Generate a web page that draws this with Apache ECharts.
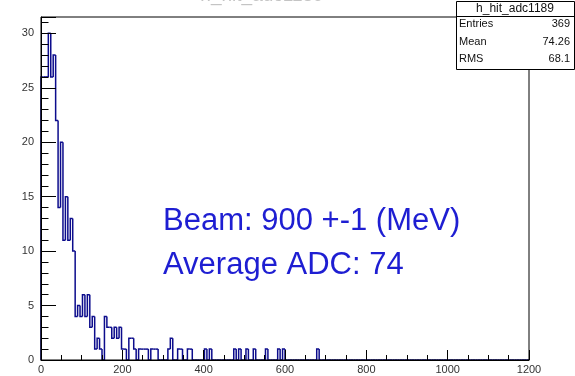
<!DOCTYPE html>
<html>
<head>
<meta charset="utf-8">
<script src="https://cdn.jsdelivr.net/npm/echarts@6/dist/echarts.min.js"></script>
<style>
  html, body { margin: 0; padding: 0; background: #ffffff; }
  #chart { width: 575px; height: 376px; }
</style>
</head>
<body>
<div id="chart"></div>
<script>
// Histogram h_hit_adc1189: 6 ADC counts per bin, bins beyond the list are empty
const binWidth = 6;
const xRange = [0, 1200];
const counts = [
  26, 26, 26, 30, 26, 28, 22, 14, 20, 11, 15, 11, 13, 10, 4, 5, 4, 6, 4, 6,
  3, 4, 1, 2, 1, 0, 4, 3, 3, 2, 3, 2, 3, 1, 1, 0, 2, 2, 1, 0,
  1, 1, 1, 1, 0, 1, 1, 1, 0, 0, 0, 0, 1, 2, 0, 0, 1, 1, 0, 0,
  1, 1, 0, 0, 0, 0, 0, 1, 0, 1, 0, 0, 0, 0, 0, 0, 0, 0, 0, 1,
  0, 1, 0, 0, 1, 0, 0, 1, 0, 0, 0, 0, 1, 0, 0, 0, 0, 1, 0, 1,
  0, 0, 0, 0, 0, 0, 0, 0, 0, 0, 0, 0, 0, 1, 0, 0, 0, 0, 0, 0
];
const yMax = 31.5;
const yMajorStep = 5;
const xMajorStep = 200;

// Statistics box
const statsTitle = 'h_hit_adc1189';
const statsLabels = ['Entries', 'Mean', 'RMS'];
const statsValues = [String(counts.reduce((a, b) => a + b, 0)), '74.26', '68.1'];

// Annotation lines
const noteLines = ['Beam: 900 +-1 (MeV)', 'Average ADC: 74'];

// One item per bin: [low edge, high edge, count, count of the previous bin]
const nBins = (xRange[1] - xRange[0]) / binWidth;
const binItems = [];
for (let i = 0; i < nBins; i++) {
  const lo = xRange[0] + i * binWidth;
  binItems.push([lo, lo + binWidth, counts[i] || 0, i > 0 ? (counts[i - 1] || 0) : 0]);
}

const font = '"Liberation Sans", Arial, Helvetica, sans-serif';
const chart = echarts.init(document.getElementById('chart'));

const statsX = 456, statsY = 1.5, statsW = 118, statsH = 68;
const graphics = [
  { type: 'rect', z: 100, shape: { x: statsX + 0.5, y: statsY, width: statsW, height: statsH },
    style: { fill: '#ffffff', stroke: '#000000', lineWidth: 1 } },
  { type: 'rect', z: 101, shape: { x: statsX + 0.5, y: 16, width: statsW, height: 1 },
    style: { fill: '#000000' } },
  { type: 'text', z: 102, x: statsX + statsW / 2, y: 9,
    style: { text: statsTitle, font: '12px ' + font, fill: '#111', align: 'center', verticalAlign: 'middle' } },
  // histogram title, mostly above the canvas edge
  { type: 'text', z: 102, x: 262, y: 5,
    style: { text: statsTitle, font: '19px ' + font, fill: '#c4c4c4', align: 'center', verticalAlign: 'bottom' } }
];
const rowY = [24, 41.5, 59];
statsLabels.forEach((lab, i) => {
  graphics.push({ type: 'text', z: 102, x: statsX + 3, y: rowY[i],
    style: { text: lab, font: '11px ' + font, fill: '#111', align: 'left', verticalAlign: 'middle' } });
  graphics.push({ type: 'text', z: 102, x: statsX + statsW - 4, y: rowY[i],
    style: { text: statsValues[i], font: '11px ' + font, fill: '#111', align: 'right', verticalAlign: 'middle' } });
});
const noteY = [221, 265];
noteLines.forEach((t, i) => {
  graphics.push({ type: 'text', z: 50, x: 163, y: noteY[i],
    style: { text: t, font: '31px ' + font, fill: '#1e1ed2', align: 'left', verticalAlign: 'middle' } });
});

chart.setOption({
  animation: false,
  backgroundColor: '#ffffff',
  grid: {
    left: 41, right: 46, top: 17, bottom: 16,
    show: true, borderColor: '#000000', borderWidth: 1, backgroundColor: 'transparent'
  },
  xAxis: {
    type: 'value', min: xRange[0], max: xRange[1], interval: xMajorStep,
    axisLine: { show: true, lineStyle: { color: '#000000', width: 1 } },
    axisTick: { show: true, inside: true, length: 10, lineStyle: { color: '#000000', width: 1 } },
    minorTick: { show: true, splitNumber: 4, length: 5, lineStyle: { color: '#000000', width: 1 } },
    splitLine: { show: false },
    minorSplitLine: { show: false },
    axisLabel: { color: '#333333', fontFamily: font, fontSize: 11, margin: 4, formatter: v => String(v) }
  },
  yAxis: [
    {
      type: 'value', min: 0, max: yMax, interval: 1,
      axisLine: { show: true, lineStyle: { color: '#000000', width: 1 } },
      axisTick: { show: true, inside: true, length: 7.5, lineStyle: { color: '#000000', width: 1 } },
      splitLine: { show: false },
      axisLabel: {
        color: '#333333', fontFamily: font, fontSize: 11, margin: 7,
        formatter: v => (v % yMajorStep === 0 ? String(v) : '')
      }
    },
    {
      type: 'value', min: 0, max: yMax, interval: yMajorStep, position: 'left',
      axisLine: { show: false },
      axisTick: { show: true, inside: true, length: 15, lineStyle: { color: '#000000', width: 1 } },
      splitLine: { show: false },
      axisLabel: { show: false }
    }
  ],
  series: [{
    type: 'custom',
    name: statsTitle,
    silent: true,
    z: -1,
    encode: { x: [0, 1], y: 2 },
    data: binItems,
    renderItem: function (params, api) {
      const lo = api.value(0), hi = api.value(1), n = api.value(2), prev = api.value(3);
      const a = api.coord([lo, prev]);
      const b = api.coord([lo, n]);
      const c = api.coord([hi, n]);
      return {
        type: 'polyline',
        shape: { points: [a, b, c] },
        style: { stroke: '#0c0c8c', lineWidth: 1.5, fill: null }
      };
    }
  }],
  graphic: graphics
});
</script>
</body>
</html>
